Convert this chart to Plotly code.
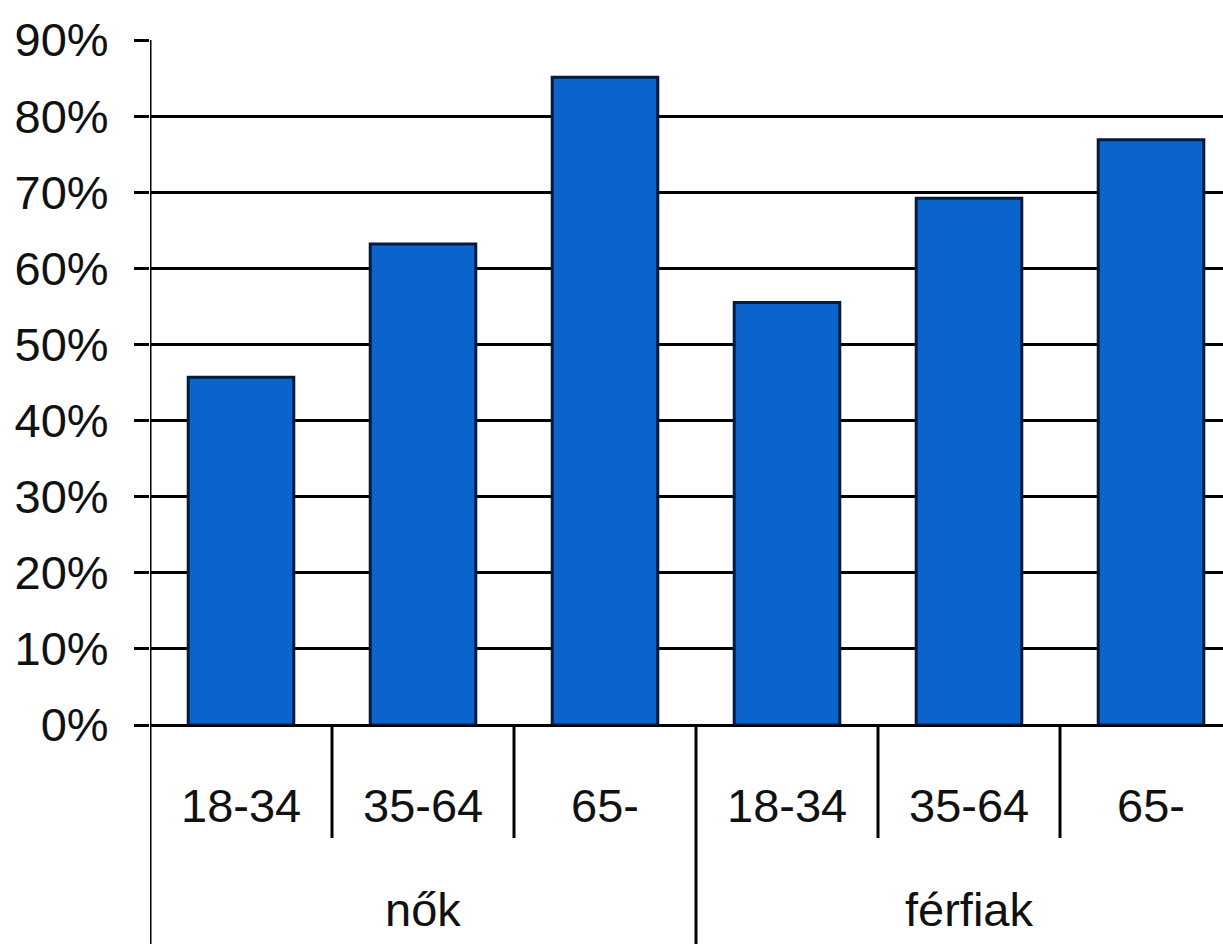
import plotly.graph_objects as go

# Share of respondents by sex and age group
groups = ["nők", "férfiak"]
age_groups = ["18-34", "35-64", "65-"]
values = [0.457, 0.632, 0.851, 0.555, 0.692, 0.769]

y_ticks = [i / 10 for i in range(10)]
y_tick_labels = [f"{i * 10}%" for i in range(10)]

FONT = "Liberation Sans, Arial, sans-serif"
TEXT_COLOR = "#111111"
FONT_SIZE = 47

x_pos = list(range(len(values)))

fig = go.Figure()
fig.add_trace(go.Bar(
    x=x_pos,
    y=values,
    width=0.58,
    marker=dict(color="#0a64cc", line=dict(color="#071a3e", width=3)),
    showlegend=False,
))

# Inner category labels (age groups)
for i, v in enumerate(x_pos):
    fig.add_annotation(
        x=v, y=-0.117, xref="x", yref="paper",
        text=age_groups[i % len(age_groups)], showarrow=False,
        font=dict(family=FONT, size=FONT_SIZE, color=TEXT_COLOR),
        xanchor="center", yanchor="middle",
    )

# Outer category labels (sex)
for g, name in enumerate(groups):
    fig.add_annotation(
        x=g * 3 + 1, y=-0.27, xref="x", yref="paper",
        text=name, showarrow=False,
        font=dict(family=FONT, size=FONT_SIZE, color=TEXT_COLOR),
        xanchor="center", yanchor="middle",
    )

# Category separators below the axis
for xb in [0.5, 1.5, 3.5, 4.5]:
    fig.add_shape(type="line", xref="x", yref="paper",
                  x0=xb, x1=xb, y0=0, y1=-0.165,
                  line=dict(color="black", width=3))
fig.add_shape(type="line", xref="x", yref="paper",
              x0=2.5, x1=2.5, y0=0, y1=-0.33,
              line=dict(color="black", width=3))
# Value axis line, running down through the category label area
fig.add_shape(type="line", xref="x", yref="paper",
              x0=-0.5, x1=-0.5, y0=1, y1=-0.33,
              line=dict(color="black", width=3))

fig.update_layout(
    width=1223, height=944,
    margin=dict(l=150, r=0, t=40, b=219),
    paper_bgcolor="white", plot_bgcolor="white",
    xaxis=dict(
        range=[-0.5, -0.5 + 1073 / 182],
        showgrid=False, zeroline=False, showline=False,
        showticklabels=False, ticks="", automargin=False,
    ),
    yaxis=dict(
        range=[0, 0.9],
        tickvals=y_ticks, ticktext=y_tick_labels,
        showgrid=True, gridcolor="black", gridwidth=3,
        zeroline=True, zerolinecolor="black", zerolinewidth=3,
        showline=False,
        ticks="outside", ticklen=15, tickwidth=3, tickcolor="black",
        ticklabelstandoff=16,
        automargin=False,
        tickfont=dict(family=FONT, size=FONT_SIZE, color=TEXT_COLOR),
    ),
)

fig.write_html("out.html")
